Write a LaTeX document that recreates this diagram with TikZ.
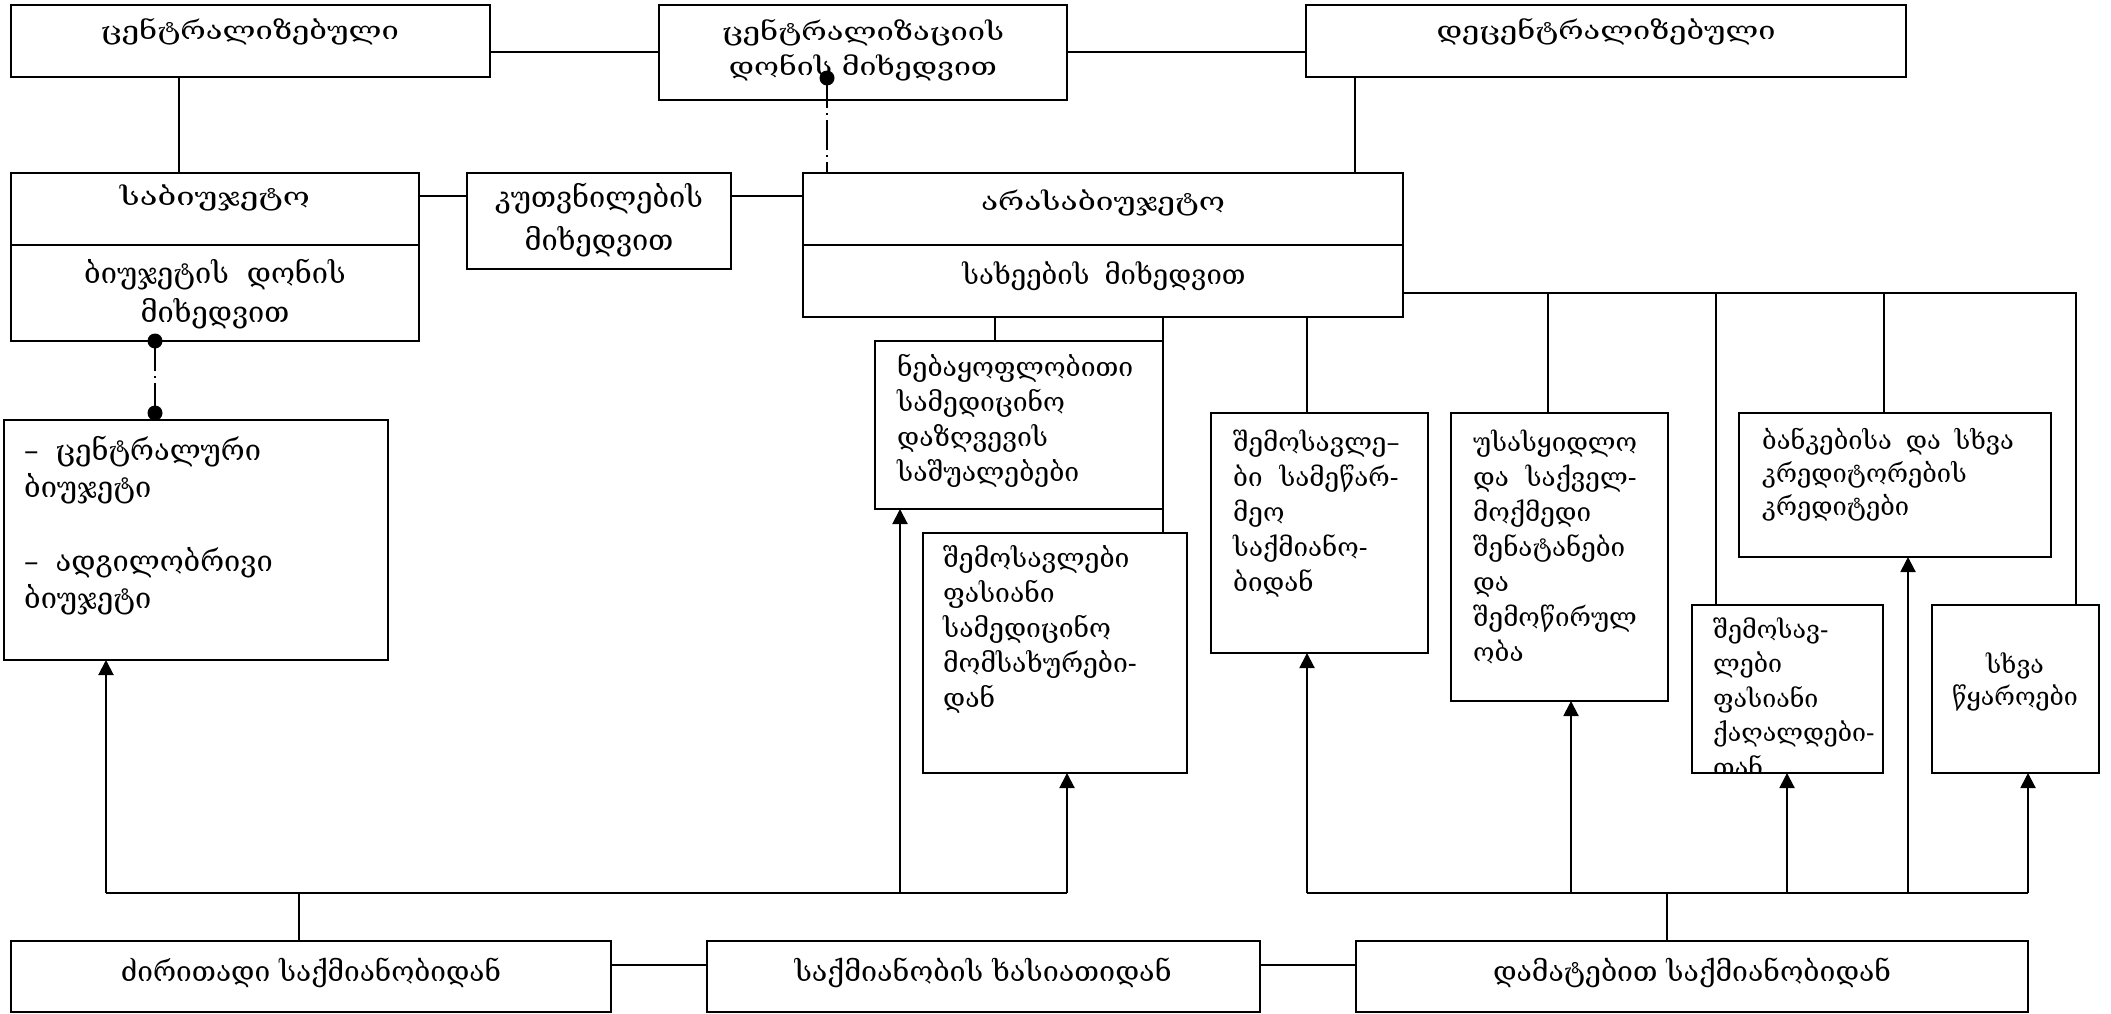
\documentclass[tikz,border=0pt]{standalone}
\usepackage{fontspec}
\setmainfont{DejaVu Serif}
\usetikzlibrary{arrows.meta}
\newcommand\boxat[5]{\node[box, minimum width=#4-#2, minimum height=#5-#3] (#1) at (#2,#3) {};}
\newcommand\cw[2]{\resizebox{#1pt}{\height}{#2}}
\begin{document}
\begin{tikzpicture}[x=1pt,y=-1pt,
  box/.style={draw, line width=2pt, inner sep=0pt, outer sep=0pt, anchor=north west},
  ln/.style={line width=2pt},
  arr/.style={line width=2pt, -{Triangle[length=15pt,width=15pt]}},
  dd/.style={line width=2pt, dash pattern=on 30pt off 5pt on 2pt off 5pt},
  bdot/.style={circle, fill=black, inner sep=0pt, minimum size=15pt},
  tcap/.style={inner sep=0pt, anchor=base, align=center, font=\fontsize{25}{35}\selectfont},
  tmid/.style={inner sep=0pt, anchor=base, align=center, font={\fontsize{29}{39}\selectfont\spaceskip=19pt}},
  tbody/.style={inner sep=0pt, anchor=base west, align=left, font={\fontsize{26}{35}\selectfont\spaceskip=17pt}},
  tbot/.style={inner sep=0pt, anchor=base, font=\fontsize{28}{30}\selectfont}]
\useasboundingbox (0,0) rectangle (2111,1014);
% boxes
\boxat{b1}{11}{5}{490}{77}
\boxat{b2}{659}{5}{1067}{100}
\boxat{b3}{1306}{5}{1906}{77}
\boxat{b4}{11}{173}{419}{341}
\boxat{b5}{467}{173}{731}{269}
\boxat{b6}{803}{173}{1403}{317}
\boxat{b7}{4}{420}{388}{660}
\boxat{b8}{875}{341}{1163}{509}
\boxat{b9}{923}{533}{1187}{773}
\boxat{b10}{1211}{413}{1428}{653}
\boxat{b11}{1451}{413}{1668}{701}
\boxat{b12}{1739}{413}{2051}{557}
\boxat{b13}{1692}{605}{1883}{773}
\boxat{b14}{1932}{605}{2099}{773}
\boxat{bl}{11}{941}{611}{1012}
\boxat{bm}{707}{941}{1260}{1012}
\boxat{br}{1356}{941}{2028}{1012}
% dividers
\draw[ln] (b4.west |- 0,245) -- (b4.east |- 0,245);
\draw[ln] (b6.west |- 0,245) -- (b6.east |- 0,245);
% texts
\node[tcap] (t1) at (250,40) {\cw{298}{ცენტრალიზებული}};
\node[tcap] (t2) at (863,76) {\cw{282}{ცენტრალიზაციის}\\\cw{268}{დონის მიხედვით}};
\node[tcap] (t3) at (1606,40) {\cw{339}{დეცენტრალიზებული}};
\node[tcap] (t4a) at (215,205) {\cw{190}{საბიუჯეტო}};
\node[tmid, font={\fontsize{29}{39}\selectfont\spaceskip=18pt}] (t4b) at (215,322) {ბიუჯეტის დონის\\მიხედვით};
\node[tmid, font={\fontsize{29}{43}\selectfont}] (t5) at (599,250) {კუთვნილების\\მიხედვით};
\node[tcap] (t6a) at (1103,210) {\cw{244}{არასაბიუჯეტო}};
\node[tmid, font={\fontsize{27.5}{39}\selectfont\spaceskip=15pt}] (t6b) at (1104,284) {სახეების მიხედვით};
\node[tbody, font={\fontsize{29}{37}\selectfont\spaceskip=17pt}] (t7) at (24,608) {– ცენტრალური\\ბიუჯეტი\\[37pt]– ადგილობრივი\\ბიუჯეტი};
\node[tbody, font={\fontsize{26.5}{35}\selectfont}] (t8) at (897,481) {ნებაყოფლობითი\\სამედიცინო\\დაზღვევის\\საშუალებები};
\node[tbody, font={\fontsize{26.5}{35}\selectfont}] (t9) at (943,707) {შემოსავლები\\ფასიანი\\სამედიცინო\\მომსახურები-\\დან};
\node[tbody] (t10) at (1233,591) {შემოსავლე–\\ბი სამეწარ-\\მეო\\საქმიანო-\\ბიდან};
\node[tbody] (t11) at (1473,661) {უსასყიდლო\\და საქველ-\\მოქმედი\\შენატანები\\და\\შემოწირულ\\ობა};
\node[tbody, font={\fontsize{25.5}{33}\selectfont\spaceskip=14pt}] (t12) at (1762,515) {ბანკებისა და სხვა\\კრედიტორების\\კრედიტები};
\begin{scope}
\clip (b13.north west) rectangle (b13.south east);
\node[tbody, font={\fontsize{25}{34.5}\selectfont}] (t13) at (1713,776) {შემოსავ-\\ლები\\ფასიანი\\ქაღალდები-\\თან};
\end{scope}
\draw[ln] (b13.south west) -- (b13.south east);
\node[tmid, font={\fontsize{25}{32}\selectfont}] (t14) at (2015,705) {სხვა\\წყაროები};
\node[tbot] (tl) at (311,981) {\cw{380}{ძირითადი საქმიანობიდან}};
\node[tbot] (tm) at (983,981) {\cw{377}{საქმიანობის ხასიათიდან}};
\node[tbot] (tr) at (1692,981) {\cw{398}{დამატებით საქმიანობიდან}};
% top connectors
\draw[ln] (b2.west -| b1.east) -- (b2.west);
\draw[ln] (b2.east) -- (b2.east -| b3.west);
\draw[ln] (b1.south -| 179,0) -- (b4.north -| 179,0);
\draw[ln] (b3.south -| 1355,0) -- (b6.north -| 1355,0);
\draw[ln] (b4.east |- 0,196) -- (b5.west |- 0,196);
\draw[ln] (b5.east |- 0,196) -- (b6.west |- 0,196);
\node[bdot] (d1) at (827,78) {};
\draw[dd] (d1.center) -- (b6.north -| d1.center);
\node[bdot] (d2) at (155,341) {};
\node[bdot] (d3) at (155,413) {};
\draw[dd] (d2.center) -- (d3.center);
% B6 branches
\draw[ln] (b6.south -| 995,0) -- (b8.north -| 995,0);
\draw[ln] (b6.south -| 1163,0) -- (b9.north -| 1163,0);
\draw[ln] (b6.south -| 1307,0) -- (b10.north -| 1307,0);
\coordinate (hr) at (2076,293);
\draw[ln] (b6.east |- hr) -- (hr) -- (b14.north -| hr);
\draw[ln] (b11.north -| 1548,0) -- (1548,293);
\draw[ln] (b13.north -| 1716,0) -- (1716,293);
\draw[ln] (b12.north -| 1884,0) -- (1884,293);
% bottom buses
\coordinate (busl) at (106,893);
\coordinate (busl2) at (1067,893);
\coordinate (busr) at (1307,893);
\coordinate (busr2) at (2028,893);
\draw[ln] (busl) -- (busl2);
\draw[ln] (busr) -- (busr2);
\draw[ln] (bl.north -| 299,0) -- (299,893);
\draw[ln] (br.north -| 1667,0) -- (1667,893);
\draw[arr] (busl) -- (b7.south -| busl);
\draw[arr] (900,893) -- (b8.south -| 900,0);
\draw[arr] (busl2) -- (b9.south -| busl2);
\draw[arr] (busr) -- (b10.south -| busr);
\draw[arr] (1571,893) -- (b11.south -| 1571,0);
\draw[arr] (1787,893) -- (b13.south -| 1787,0);
\draw[arr] (1908,893) -- (b12.south -| 1908,0);
\draw[arr] (busr2) -- (b14.south -| busr2);
\draw[ln] (bl.east |- 0,965) -- (bm.west |- 0,965);
\draw[ln] (bm.east |- 0,965) -- (br.west |- 0,965);
\end{tikzpicture}
\end{document}
